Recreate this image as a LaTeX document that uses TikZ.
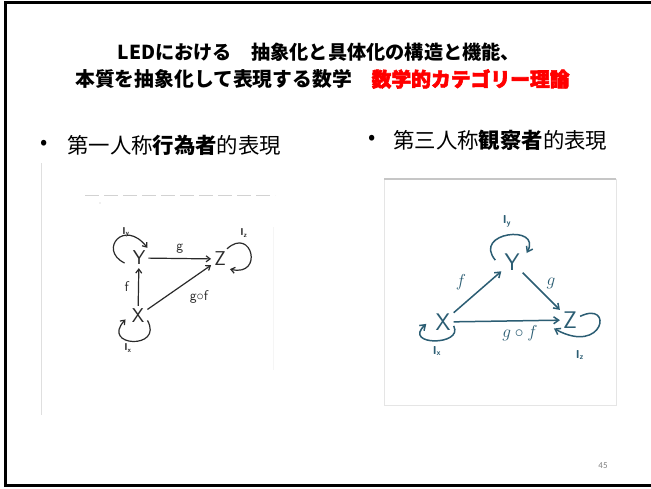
\documentclass[tikz,border=0pt]{standalone}
\usepackage{fontspec}
\usetikzlibrary{arrows.meta}
\setmainfont{Noto Sans CJK JP}
\newfontfamily\jpheavy{Noto Sans CJK JP}[BoldFeatures={FakeBold=3}]
\newfontfamily\pgnum{Carlito}
\definecolor{teal2}{HTML}{2B5D73}
\definecolor{pen}{HTML}{2A2A2A}
\tikzset{
  title/.style={font=\bfseries\fontsize{19.2}{21}\selectfont, inner sep=0pt},
  bul/.style={font=\fontsize{21.4}{23}\selectfont, inner sep=0pt},
  lnode/.style={font=\sffamily\fontsize{20}{20}\selectfont, text=pen, inner sep=3pt},
  rnode/.style={font=\sffamily\fontsize{24}{24}\selectfont, text=teal2, inner sep=3pt},
  larrow/.style={draw=pen, line width=1.2pt, -{Straight Barb[length=4pt,width=6pt]}},
  rarrow/.style={draw=teal2, line width=1.5pt, -{Straight Barb[length=5pt,width=7pt]}},
  llab/.style={font=\sffamily\fontsize{14}{14}\selectfont, text=pen, inner sep=0pt},
  rlab/.style={font=\fontsize{17}{17}\selectfont, text=teal2, inner sep=0pt},
  lid/.style={font=\sffamily\bfseries\fontsize{10}{10}\selectfont, text=pen, inner sep=0pt},
  rid/.style={font=\sffamily\bfseries\fontsize{11.5}{11.5}\selectfont, text=teal2, inner sep=0pt}
}
\begin{document}
\begin{tikzpicture}[x=1pt,y=-1pt]
\useasboundingbox (0,0) rectangle (651,488);
\fill[white] (0,0) rectangle (651,488);
% slide frame
\draw[line width=3pt] (652,2.5) -- (5,2.5) -- (5,485.5) -- (652,485.5);

% title
\node[title] (t1) at (319,52) {LEDにおける　抽象化と具体化の構造と機能、};
\node[title, anchor=west, font=\bfseries\fontsize{19.8}{21}\selectfont] (t2) at (75,79) {本質を抽象化して表現する数学　{\jpheavy\bfseries\color{red}\fontsize{19.8}{21}\selectfont 数学的カテゴリー理論}};

% bullets
\node[bul] (b1) at (44,145) {•};
\node[bul, anchor=west] (b1t) at (67,145) {第一人称\textbf{行為者}的表現};
\node[bul] (b2) at (372,140) {•};
\node[bul, anchor=west] (b2t) at (393,140) {第三人称\textbf{観察者}的表現};

% left scanned image traces
\draw[gray!25, line width=1pt] (41,163) -- (41,415);
\draw[gray!35, dashed, dash pattern=on 14pt off 5pt] (85,195) -- (275,195);
\fill[gray!50] (100,203) circle (0.7pt);
\draw[gray!8, line width=1pt] (273,227) -- (273,370);

% left diagram
\node[lnode] (Y1) at (139,258) {Y};
\node[lnode] (Z1) at (220,259) {Z};
\node[lnode] (X1) at (138,316) {X};
\draw[larrow] (Y1) -- node[llab, above=5pt] (g1) {g} (Z1);
\draw[larrow] (X1) -- node[llab, left=9pt] (f1) {f} (Y1);
\draw[larrow] (X1) -- (Z1);
\node[llab] (gf1) at (199,297) {g$\circ$f};
\draw[larrow] ([shift={(-5,5)}]Y1.west) .. controls (98,250) and (124,218) .. ([xshift=-1pt]Y1.north east);
\draw[larrow] ([xshift=-2pt]Z1.north east) .. controls (252,226) and (264,277) .. ([xshift=1pt]Z1.south east);
\draw[larrow] (X1.-25) .. controls (164,350) and (100,347) .. ([xshift=-3pt]X1.-160);
\node[lid] (iy1) at (126,232) {I\textsubscript{y}};
\node[lid] (iz1) at (244,233) {I\textsubscript{z}};
\node[lid] (ix1) at (128,348) {I\textsubscript{x}};

% right scanned image traces
\draw[gray!20, line width=0.8pt] (384,179) rectangle (616,405);
\draw[gray!45, line width=1.2pt] (384,179) -- (616,179);

% right diagram
\node[rnode] (Y2) at (512,262) {Y};
\node[rnode] (X2) at (443,322) {X};
\node[rnode] (Z2) at (570,320) {Z};
\draw[rarrow] (X2) -- (Y2);
\draw[rarrow] (Y2) -- (Z2);
\draw[rarrow] (X2) -- (Z2);
\node[rlab] (f2) at (461,282) {$f$};
\node[rlab] (g2) at (551,283) {$g$};
\node[rlab] (gf2) at (520,333) {$g\circ f$};
\draw[rarrow] ([xshift=-6pt]Y2.170) .. controls (472,232) and (542,224) .. ([xshift=4pt]Y2.40);
\draw[rarrow] (X2.-20) .. controls (464,346) and (402,346) .. ([xshift=-6pt]X2.190);
\draw[rarrow] (Z2.20) .. controls (614,300) and (604,356) .. ([xshift=-6pt]Z2.-140);
\node[rid] (iy2) at (507,221) {I\textsubscript{y}};
\node[rid] (ix2) at (437,351) {I\textsubscript{x}};
\node[rid] (iz2) at (580,355) {I\textsubscript{z}};

% page number
\node[font=\pgnum\fontsize{9}{9}\selectfont, text=gray] (pn) at (603,466) {45};
\end{tikzpicture}
\end{document}
